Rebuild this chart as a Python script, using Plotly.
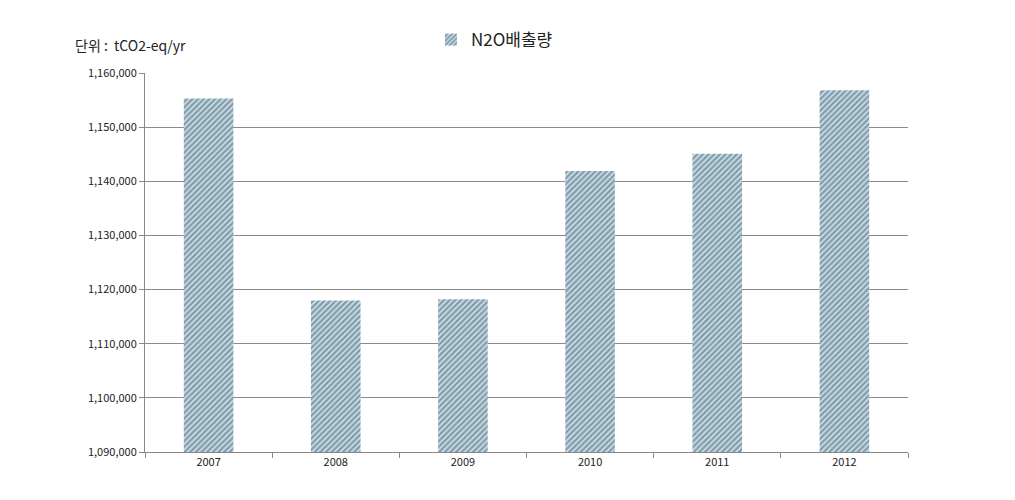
import plotly.graph_objects as go

years = ["2007", "2008", "2009", "2010", "2011", "2012"]
n2o = [1155300, 1118000, 1118200, 1141900, 1145100, 1156800]
y_ticks = [1090000, 1100000, 1110000, 1120000, 1130000, 1140000, 1150000, 1160000]
y_tick_labels = [f"{v:,}" for v in y_ticks]

font_family = "Noto Sans CJK KR, Noto Sans, sans-serif"

fig = go.Figure()
fig.add_trace(go.Bar(
    x=years, y=n2o, name="N2O배출량",
    marker=dict(
        color="#cfe2ea",
        line=dict(width=0),
        pattern=dict(shape="/", fgcolor="#36566b", bgcolor="#cfe2ea", size=4, solidity=0.6),
    ),
))

fig.update_layout(
    width=1015, height=500,
    margin=dict(l=145, r=107, t=73, b=48, autoexpand=False),
    paper_bgcolor="white", plot_bgcolor="white",
    font=dict(family=font_family, size=11, color="#222"),
    bargap=0.61,
    showlegend=True,
    legend=dict(orientation="h", x=0.458, xanchor="center", y=1.087, yanchor="middle",
                font=dict(size=17, color="#222"), itemwidth=30),
    xaxis=dict(showline=True, linecolor="#888", linewidth=1, ticks="outside",
               tickson="boundaries", ticklen=5, tickcolor="#888", showgrid=False,
               tickfont=dict(size=11)),
    yaxis=dict(range=[1090000, 1160000], tickvals=y_ticks, ticktext=y_tick_labels,
               showline=True, linecolor="#888", linewidth=1, ticks="outside", ticklen=5,
               tickcolor="#888", showgrid=True, gridcolor="#8a8a8a", gridwidth=1,
               tickfont=dict(size=11)),
    annotations=[dict(text="단위 :  tCO2-eq/yr", xref="paper", yref="paper",
                      x=-0.094, y=1.074, xanchor="left", yanchor="middle",
                      showarrow=False, font=dict(size=14, color="#222"))],
)

fig.write_html("out.html")
